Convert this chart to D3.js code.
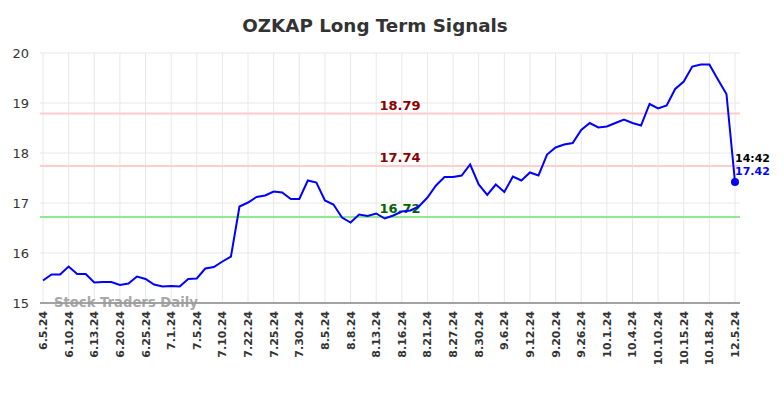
<!DOCTYPE html>
<html><head><meta charset="utf-8">
<script src="https://cdn.jsdelivr.net/npm/d3@7/dist/d3.min.js"></script>
<style>body{margin:0;background:#fff;font-family:"DejaVu Sans",sans-serif;}</style>
</head><body><svg id="c" width="784" height="398"></svg>
<script>
const tickLabels = ["6.5.24","6.10.24","6.13.24","6.20.24","6.25.24","7.1.24","7.5.24","7.10.24","7.22.24","7.25.24","7.30.24","8.5.24","8.8.24","8.13.24","8.16.24","8.21.24","8.27.24","8.30.24","9.6.24","9.12.24","9.20.24","9.26.24","10.1.24","10.4.24","10.10.24","10.15.24","10.18.24","12.5.24"];
const values = [15.45,15.57,15.57,15.73,15.58,15.58,15.41,15.42,15.42,15.36,15.39,15.53,15.48,15.37,15.33,15.34,15.33,15.48,15.49,15.69,15.72,15.83,15.93,16.93,17.01,17.12,17.15,17.23,17.21,17.08,17.08,17.45,17.41,17.05,16.97,16.71,16.61,16.77,16.74,16.79,16.69,16.75,16.83,16.85,16.93,17.11,17.35,17.52,17.52,17.55,17.77,17.37,17.16,17.37,17.22,17.53,17.45,17.61,17.55,17.97,18.11,18.17,18.20,18.46,18.60,18.51,18.53,18.60,18.67,18.60,18.55,18.98,18.89,18.95,19.28,19.43,19.73,19.77,19.77,19.47,19.18,17.42];
const yTicks = [15,16,17,18,19,20];
const levels = [18.79, 17.74, 16.72];
const levelKinds = ["res","res","sup"];
const lastTime = "14:42";

const svg = d3.select("#c");
const x = d3.scaleLinear().domain([0, values.length-1]).range([43, 735]);
const y = d3.scaleLinear().domain([15, 20]).range([303, 53]);
const left = 40, right = 740;

svg.append("text").attr("x", 375).attr("y", 32).attr("text-anchor","middle")
  .attr("font-size", 18.3).attr("font-weight","bold").attr("fill","#333").text("OZKAP Long Term Signals");

// horizontal grid
svg.append("g").selectAll("line").data(yTicks).join("line")
  .attr("x1", left).attr("x2", right).attr("y1", d=>y(d)).attr("y2", d=>y(d))
  .attr("stroke", "#e8e8e8").attr("stroke-width", 1);
// vertical grid
const tickIdx = tickLabels.map((d,i)=> i*3);
svg.append("g").selectAll("line").data(tickIdx).join("line")
  .attr("x1", d=>x(d)).attr("x2", d=>x(d)).attr("y1", 53).attr("y2", 303)
  .attr("stroke", "#e8e8e8").attr("stroke-width", 1);

// y labels
svg.append("g").selectAll("text").data(yTicks).join("text")
  .attr("x", 29).attr("y", d=>y(d)+5).attr("text-anchor","end")
  .attr("font-size", 13).attr("fill","#333").text(d=>d);

// x labels
svg.append("g").selectAll("text").data(tickLabels).join("text")
  .attr("transform", (d,i)=>`translate(${x(i*3)+4},311) rotate(-90)`)
  .attr("text-anchor","end").attr("font-size", 11).attr("font-weight","bold")
  .attr("fill","#333").text(d=>d);

// levels
svg.append("g").selectAll("line").data(levels).join("line")
  .attr("x1", left).attr("x2", right).attr("y1", d=>y(d)).attr("y2", d=>y(d))
  .attr("stroke", (d,i)=> levelKinds[i]==="res" ? "#ffcccc" : "#90e890").attr("stroke-width", 2);
svg.append("g").selectAll("text").data(levels).join("text")
  .attr("x", 400).attr("y", d=>y(d)-4).attr("text-anchor","middle")
  .attr("font-size", 13).attr("font-weight","bold")
  .attr("fill", (d,i)=> levelKinds[i]==="res" ? "#8b0000" : "#006400").text(d=>d.toFixed(2));

// axis bottom line
svg.append("line").attr("x1", left).attr("x2", right).attr("y1", 303).attr("y2", 303)
  .attr("stroke", "#555").attr("stroke-width", 1);

// watermark
svg.append("text").attr("x", 54).attr("y", 307).attr("font-size", 13.2).attr("font-weight","bold")
  .attr("fill","#999").attr("opacity", 0.85).text("Stock Traders Daily");

// line
svg.append("path").datum(values)
  .attr("d", d3.line().x((d,i)=>x(i)).y(d=>y(d)))
  .attr("fill","none").attr("stroke","#0000ff").attr("stroke-width", 2);

const li = values.length-1;
svg.append("circle").attr("cx", x(li)).attr("cy", y(values[li])).attr("r", 4).attr("fill","#0000ff");
svg.append("text").attr("x", x(li)).attr("y", y(values[li])-20).attr("font-size", 11).attr("font-weight","bold")
  .attr("fill","#000").text(lastTime);
svg.append("text").attr("x", x(li)).attr("y", y(values[li])-7).attr("font-size", 11).attr("font-weight","bold")
  .attr("fill","#0000ff").text(values[li].toFixed(2));
</script></body></html>
